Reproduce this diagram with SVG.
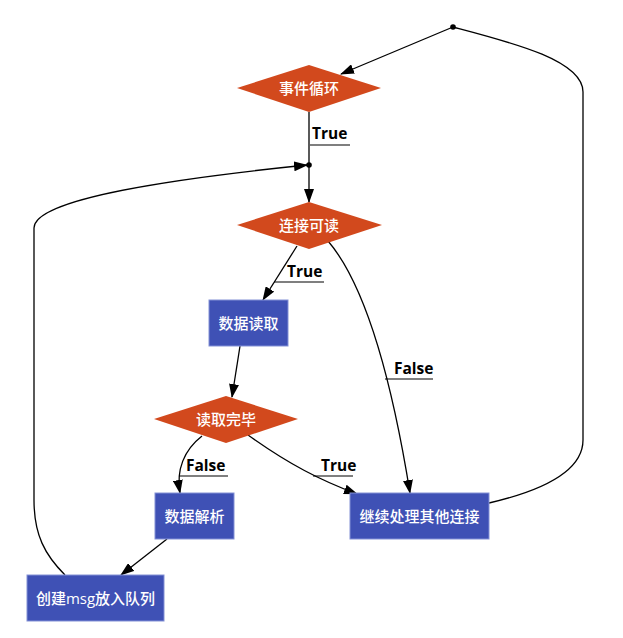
<svg xmlns="http://www.w3.org/2000/svg" width="623" height="638" viewBox="0 0 623 638">
<defs>
<marker id="arr" markerWidth="14" markerHeight="10" refX="13" refY="5" orient="auto" markerUnits="userSpaceOnUse">
<path d="M0,0 L14,5 L0,10 z" fill="#000"/>
</marker>
<style>
.dia{fill:#D2491D}
.box{fill:#3F51B5;stroke:#8391D6;stroke-width:1}
.nt{font-family:"Open Sans","Noto Sans CJK SC",sans-serif;font-size:15px;font-weight:500;fill:#fff;text-anchor:middle;dominant-baseline:central}
.lbl{font-family:"Open Sans","Noto Sans CJK SC",sans-serif;font-size:15.5px;font-weight:bold;fill:#000}
.e{fill:none;stroke:#000;stroke-width:1.3}
.ul{stroke:#000;stroke-width:1.2}
</style>
</defs>
<rect width="623" height="638" fill="#fff"/>
<g id="connectors">
<path class="e" d="M453,27 L341,74" marker-end="url(#arr)"/>
<path class="e" d="M309,112 L309,165"/>
<path class="e" d="M309,165 L309,202" marker-end="url(#arr)"/>
<path class="e" d="M297,246 L263,300" marker-end="url(#arr)"/>
<path class="e" d="M328,241 C370,290 395,400 410,493" marker-end="url(#arr)"/>
<path class="e" d="M240,346 L232,397" marker-end="url(#arr)"/>
<path class="e" d="M202,436 C184,450 176,470 180,493" marker-end="url(#arr)"/>
<path class="e" d="M248,435 C290,465 320,480 357,494" marker-end="url(#arr)"/>
<path class="e" d="M167,539 L121,575" marker-end="url(#arr)"/>
<path class="e" d="M65,575 C45,555 34,535 34,500 L34,228 C34,198 180,178 307,165" marker-end="url(#arr)"/>
<path class="e" d="M489,503 C545,490 583,470 583,440 L583,92 C583,60 510,42 453,27"/>
<circle cx="453" cy="27" r="2.8" fill="#000"/>
<circle cx="309" cy="165" r="2.8" fill="#000"/>
<text class="lbl" x="312" y="139">True</text>
<line class="ul" x1="310" y1="145" x2="350" y2="145"/>
<text class="lbl" x="287" y="277">True</text>
<line class="ul" x1="274" y1="282" x2="324" y2="282"/>
<text class="lbl" x="394" y="374">False</text>
<line class="ul" x1="385" y1="379" x2="433" y2="379"/>
<text class="lbl" x="186" y="471">False</text>
<line class="ul" x1="179" y1="476" x2="228" y2="476"/>
<text class="lbl" x="321" y="471">True</text>
<line class="ul" x1="313" y1="476" x2="353" y2="476"/>
</g>
<g id="n_loop">
<polygon class="dia" points="309,65 381,88 309,112 237,88"/>
<text class="nt" x="309" y="88">事件循环</text>
</g>
<g id="n_readable">
<polygon class="dia" points="309,202 382,225 309,249 237,225"/>
<text class="nt" x="309" y="225">连接可读</text>
</g>
<g id="n_read">
<rect class="box" x="209" y="300" width="79" height="46"/>
<text class="nt" x="248.5" y="323">数据读取</text>
</g>
<g id="n_done">
<polygon class="dia" points="226,396 298,419 226,443 154,419"/>
<text class="nt" x="226" y="419">读取完毕</text>
</g>
<g id="n_parse">
<rect class="box" x="155" y="493" width="79" height="46"/>
<text class="nt" x="194.5" y="516">数据解析</text>
</g>
<g id="n_other">
<rect class="box" x="350" y="493" width="139" height="46"/>
<text class="nt" x="419.5" y="516">继续处理其他连接</text>
</g>
<g id="n_msg">
<rect class="box" x="27" y="575" width="137" height="46"/>
<text class="nt" x="95.5" y="598">创建msg放入队列</text>
</g>
</svg>
